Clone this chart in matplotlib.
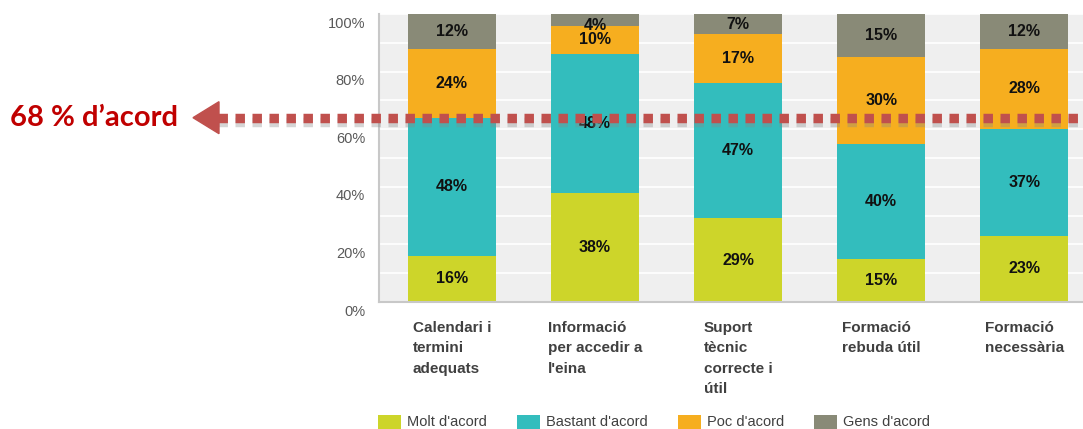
import matplotlib.pyplot as plt
import matplotlib.transforms as mtransforms
import matplotlib.patheffects as pe
from matplotlib.patches import Polygon, Patch
from matplotlib.lines import Line2D
import numpy as np

# data
categories = ["Calendari i\ntermini\nadequats",
              "Informació\nper accedir a\nl'eina",
              "Suport\ntècnic\ncorrecte i\nútil",
              "Formació\nrebuda útil",
              "Formació\nnecessària"]
molt = [16, 38, 29, 15, 23]
bastant = [48, 48, 47, 40, 37]
poc = [24, 10, 17, 30, 28]
gens = [12, 4, 7, 15, 12]
series_names = ["Molt d'acord", "Bastant d'acord", "Poc d'acord", "Gens d'acord"]
colors = ["#cdd52a", "#33bdbd", "#f6ae1f", "#898a77"]
agree_level = 64
agree_text = "68 % d\u2019acord"

W, H = 1083, 429
fig = plt.figure(figsize=(W / 100, H / 100), dpi=100)
ax = fig.add_axes([379 / W, 1 - 302 / H, 1 - 379 / W, (302 - 14) / H])
ax.set_facecolor("#efefef")

x = np.arange(len(categories))
bottom = np.zeros(len(categories))
for vals, col in zip([molt, bastant, poc, gens], colors):
    ax.bar(x, vals, width=0.615, bottom=bottom, color=col, zorder=2)
    for xi, b, v in zip(x, bottom, vals):
        # tiny segments get their label pushed down a bit, like the original
        yl = b + v / 2 - (2 if v < 6 else 0)
        ax.text(xi, yl, f"{v}%", ha="center", va="center",
                fontsize=11.5, fontweight="bold", family="Liberation Sans",
                color="#111111", zorder=3)
    bottom += vals

ax.set_xlim(-0.51, 4.41)
ax.set_ylim(0, 100)
ax.set_yticks(range(0, 101, 20))
ax.set_yticks(range(0, 101, 10), minor=True)
ax.set_yticklabels([f"{v}%" for v in range(0, 101, 20)])
ax.grid(True, which="both", axis="y", color="white", lw=1.2, zorder=1)
ax.tick_params(axis="y", which="both", length=0, pad=10, labelsize=10.5,
               labelcolor="#595959")
for lab in ax.get_yticklabels():
    lab.set_family("Liberation Sans")
    lab.set_transform(lab.get_transform() +
                      mtransforms.ScaledTranslation(0, -0.08, fig.dpi_scale_trans))
ax.set_xticks(x)
ax.set_xticklabels(categories, fontsize=11, fontweight="bold",
                   family="Liberation Sans", color="#404040",
                   ha="center", multialignment="left", va="top",
                   linespacing=1.55)
ax.tick_params(axis="x", length=0, pad=14)
for s in ["top", "right"]:
    ax.spines[s].set_visible(False)
for s in ["left", "bottom"]:
    ax.spines[s].set_color("#c8c8c8")
    ax.spines[s].set_linewidth(1.5)

# dotted agreement line with arrow
trans = mtransforms.blended_transform_factory(fig.transFigure, ax.transData)
line = Line2D([218 / W, 1.0], [agree_level, agree_level], transform=trans,
              color="#c0504d", lw=6.8, dashes=(1, 0.8), solid_capstyle="butt",
              dash_capstyle="butt", zorder=5, clip_on=False,
              path_effects=[pe.SimpleLineShadow(offset=(0, -3), shadow_color="#888888",
                                                alpha=0.35),
                            pe.Normal()])
fig.add_artist(line)
yf = ax.transData.transform((0, agree_level))[1] / H
head = Polygon([[193 / W, yf], [219 / W, yf + 16 / H], [219 / W, yf - 16 / H]],
               closed=True, transform=fig.transFigure, color="#c0504d", zorder=6)
fig.add_artist(head)
fig.text(10 / W, yf, agree_text, ha="left", va="center", fontsize=21,
         fontweight="bold", family="Lato", color="#c00000")

# legend
handles = [Patch(facecolor=c, edgecolor="none") for c in colors]
leg = fig.legend(handles, series_names, loc="center", ncol=4,
                 bbox_to_anchor=(654 / W, 1 - 422 / H), frameon=False,
                 prop={"family": "Liberation Sans", "size": 10.5},
                 handlelength=1.6, handleheight=1.1, handletextpad=0.4,
                 columnspacing=2.05)
for t in leg.get_texts():
    t.set_color("#404040")

fig.savefig("out.png", dpi=100)
